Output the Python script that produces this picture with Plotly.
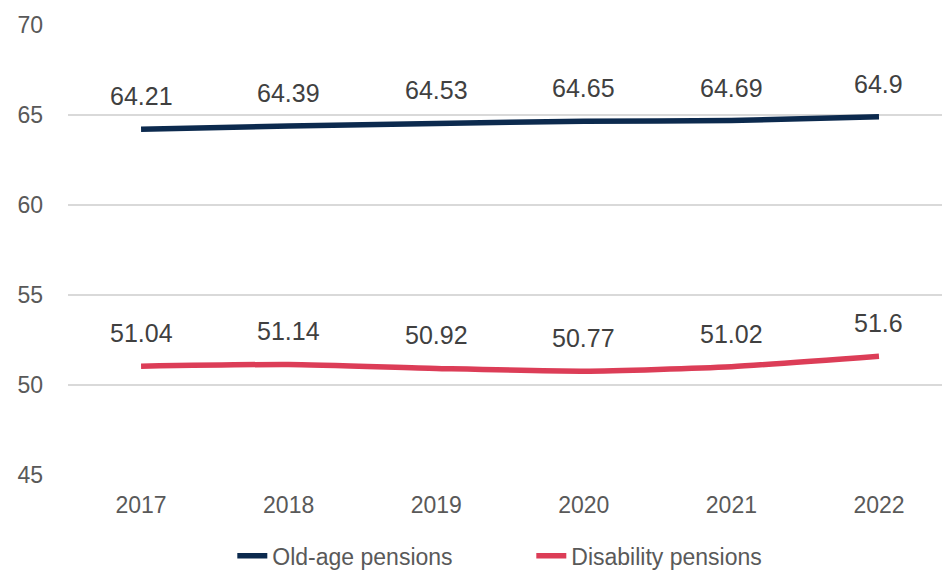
import plotly.graph_objects as go

years = ["2017", "2018", "2019", "2020", "2021", "2022"]
old_age = [64.21, 64.39, 64.53, 64.65, 64.69, 64.9]
disability = [51.04, 51.14, 50.92, 50.77, 51.02, 51.6]
y_ticks = [45, 50, 55, 60, 65, 70]

NAVY = "#0c2a4e"
RED = "#dc3d57"
FONT = "Liberation Sans, Arial, sans-serif"

fig = go.Figure()
fig.add_trace(go.Scatter(x=years, y=old_age, mode="lines", name="Old-age pensions",
                         line=dict(color=NAVY, width=5.5, shape="spline", smoothing=0.6)))
fig.add_trace(go.Scatter(x=years, y=disability, mode="lines", name="Disability pensions",
                         line=dict(color=RED, width=5.5, shape="spline", smoothing=0.6)))

annotations = []
for series in (old_age, disability):
    for i, v in enumerate(series):
        annotations.append(dict(x=i, y=v, xref="x", yref="y", text=str(v), showarrow=False,
                                yshift=33, font=dict(size=25, color="#404040", family=FONT)))

fig.update_layout(
    width=942, height=571,
    margin=dict(l=68, r=0, t=25, b=96, autoexpand=False),
    paper_bgcolor="white", plot_bgcolor="white",
    font=dict(family=FONT, color="#595959", size=23),
    showlegend=True,
    annotations=annotations,
    legend=dict(orientation="h", x=0.188, xanchor="left",
                y=-0.132, yanchor="top",
                entrywidth=254, entrywidthmode="pixels",
                font=dict(size=23, color="#595959"), tracegroupgap=0),
)
fig.update_xaxes(type="category", range=[-0.495, 5.427], showgrid=False, zeroline=False,
                 showline=False, ticks="", ticklabelstandoff=14, automargin=False,
                 tickfont=dict(size=23, color="#595959"))
fig.update_yaxes(range=[45, 70], tickvals=y_ticks, showgrid=True, gridcolor="#d9d9d9",
                 gridwidth=2, zeroline=False, showline=False, ticks="", ticklabelstandoff=24,
                 automargin=False, tickfont=dict(size=23, color="#595959"))

fig.write_html("out.html", config={"displayModeBar": False},
               post_script="document.body.style.margin='0';")
